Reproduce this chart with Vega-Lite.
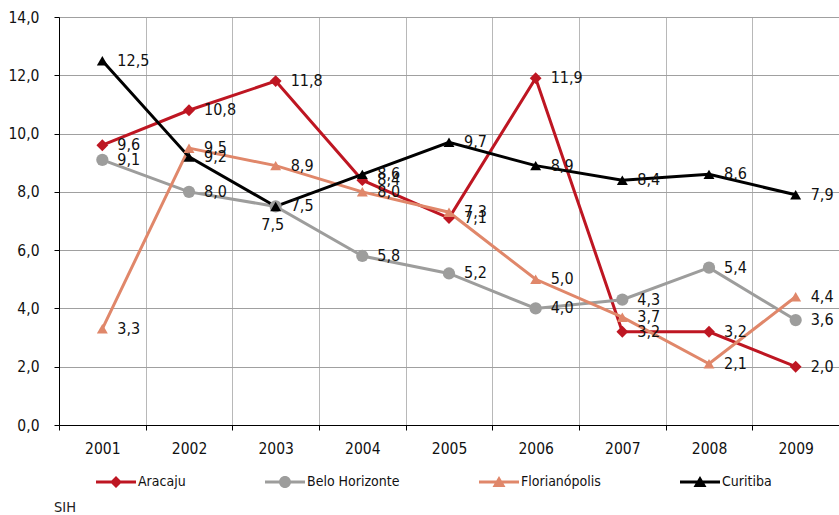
{
  "$schema": "https://vega.github.io/schema/vega-lite/v6.json",
  "autosize": "none",
  "padding": {"left": 59, "top": 17, "right": 0, "bottom": 90},
  "width": 780,
  "height": 408,
  "background": "white",
  "title": {"text": "SIH", "orient": "bottom", "anchor": "start", "frame": "group", "offset": 12, "dx": -5, "fontSize": 14.5, "font": "DejaVu Sans Condensed", "fontWeight": "normal", "color": "#222"},
  "data": {"values": [
    {"year": "2001", "city": "Aracaju", "v": 9.6},
    {"year": "2002", "city": "Aracaju", "v": 10.8},
    {"year": "2003", "city": "Aracaju", "v": 11.8},
    {"year": "2004", "city": "Aracaju", "v": 8.4},
    {"year": "2005", "city": "Aracaju", "v": 7.1},
    {"year": "2006", "city": "Aracaju", "v": 11.9},
    {"year": "2007", "city": "Aracaju", "v": 3.2},
    {"year": "2008", "city": "Aracaju", "v": 3.2},
    {"year": "2009", "city": "Aracaju", "v": 2.0},
    {"year": "2001", "city": "Belo Horizonte", "v": 9.1},
    {"year": "2002", "city": "Belo Horizonte", "v": 8.0},
    {"year": "2003", "city": "Belo Horizonte", "v": 7.5},
    {"year": "2004", "city": "Belo Horizonte", "v": 5.8},
    {"year": "2005", "city": "Belo Horizonte", "v": 5.2},
    {"year": "2006", "city": "Belo Horizonte", "v": 4.0},
    {"year": "2007", "city": "Belo Horizonte", "v": 4.3},
    {"year": "2008", "city": "Belo Horizonte", "v": 5.4},
    {"year": "2009", "city": "Belo Horizonte", "v": 3.6},
    {"year": "2001", "city": "Florianópolis", "v": 3.3},
    {"year": "2002", "city": "Florianópolis", "v": 9.5},
    {"year": "2003", "city": "Florianópolis", "v": 8.9},
    {"year": "2004", "city": "Florianópolis", "v": 8.0},
    {"year": "2005", "city": "Florianópolis", "v": 7.3},
    {"year": "2006", "city": "Florianópolis", "v": 5.0},
    {"year": "2007", "city": "Florianópolis", "v": 3.7},
    {"year": "2008", "city": "Florianópolis", "v": 2.1},
    {"year": "2009", "city": "Florianópolis", "v": 4.4},
    {"year": "2001", "city": "Curitiba", "v": 12.5},
    {"year": "2002", "city": "Curitiba", "v": 9.2},
    {"year": "2003", "city": "Curitiba", "v": 7.5},
    {"year": "2004", "city": "Curitiba", "v": 8.6},
    {"year": "2005", "city": "Curitiba", "v": 9.7},
    {"year": "2006", "city": "Curitiba", "v": 8.9},
    {"year": "2007", "city": "Curitiba", "v": 8.4},
    {"year": "2008", "city": "Curitiba", "v": 8.6},
    {"year": "2009", "city": "Curitiba", "v": 7.9}
  ]},
  "encoding": {
    "x": {"field": "year", "type": "nominal", "bandPosition": 0.5,
      "scale": {"type": "band", "paddingInner": 0, "paddingOuter": 0},
      "axis": {"title": null, "labelAngle": 0, "tickBand": "extent", "grid": true, "gridColor": "#b8b8b8", "gridWidth": 1, "domainColor": "#000", "tickColor": "#000", "tickSize": 5, "labelPadding": 11, "labelFontSize": 15.5, "labelFont": "DejaVu Sans Condensed", "labelColor": "#111"}},
    "y": {"field": "v", "type": "quantitative",
      "scale": {"domain": [0, 14], "nice": false},
      "axis": {"title": null, "values": [0, 2, 4, 6, 8, 10, 12, 14], "labelExpr": "replace(format(datum.value, '.1f'), '.', ',')", "grid": true, "gridColor": "#a0a0a0", "gridWidth": 1, "domain": true, "domainColor": "#000", "tickColor": "#000", "tickSize": 5, "labelPadding": 15, "labelFontSize": 15.5, "labelFont": "DejaVu Sans Condensed", "labelColor": "#111"}}
  },
  "layer": [
    {
      "transform": [{"filter": "datum.v < 0"}],
      "mark": {"type": "point", "filled": true, "opacity": 1},
      "encoding": {
        "color": {"field": "city", "type": "nominal",
          "scale": {"domain": ["Aracaju", "Belo Horizonte", "Florianópolis", "Curitiba"], "range": ["#BE1622", "#9D9D9C", "#E0876A", "#000000"]},
          "legend": {"title": null, "orient": "none", "legendX": 47, "legendY": 455, "direction": "horizontal", "columns": 4, "columnPadding": 79, "symbolSize": 400, "symbolOpacity": 1, "labelOffset": 12, "labelFontSize": 14, "labelFont": "DejaVu Sans Condensed", "labelColor": "#111", "symbolStrokeWidth": 0, "padding": 0}},
        "shape": {"field": "city", "type": "nominal",
          "scale": {"domain": ["Aracaju", "Belo Horizonte", "Florianópolis", "Curitiba"], "range": [
            "M-2,-0.15H2V0.15H-2Z M0,-0.6L0.6,0L0,0.6L-0.6,0Z",
            "M-2,-0.15H2V0.15H-2Z M-0.6,0A0.6,0.6 0 1,1 0.6,0A0.6,0.6 0 1,1 -0.6,0Z",
            "M-2,-0.15H2V0.15H-2Z M0,-0.6L0.65,0.5L-0.65,0.5Z",
            "M-2,-0.15H2V0.15H-2Z M0,-0.6L0.65,0.5L-0.65,0.5Z"]},
          "legend": {"title": null, "orient": "none", "legendX": 47, "legendY": 455, "direction": "horizontal", "columns": 4, "columnPadding": 79, "symbolSize": 400, "symbolOpacity": 1, "labelOffset": 12, "labelFontSize": 14, "labelFont": "DejaVu Sans Condensed", "labelColor": "#111", "symbolStrokeWidth": 0, "padding": 0}}
      }
    },
    {
      "mark": {"type": "line", "strokeWidth": 3},
      "encoding": {"color": {"field": "city", "type": "nominal", "legend": null}}
    },
    {
      "transform": [{"filter": "datum.city == 'Aracaju'"}],
      "mark": {"type": "point", "filled": true, "shape": "diamond", "size": 140, "opacity": 1},
      "encoding": {"color": {"field": "city", "type": "nominal", "legend": null}}
    },
    {
      "transform": [{"filter": "datum.city == 'Belo Horizonte'"}],
      "mark": {"type": "point", "filled": true, "shape": "circle", "size": 150, "opacity": 1},
      "encoding": {"color": {"field": "city", "type": "nominal", "legend": null}}
    },
    {
      "transform": [{"filter": "datum.city == 'Florianópolis' || datum.city == 'Curitiba'"}],
      "mark": {"type": "point", "filled": true, "shape": "triangle-up", "size": 120, "opacity": 1},
      "encoding": {"color": {"field": "city", "type": "nominal", "legend": null}}
    },
    {
      "transform": [
        {"filter": "!(datum.city == 'Belo Horizonte' && datum.year == '2003')"},
        {"calculate": "replace(format(datum.v, '.1f'), '.', ',')", "as": "lbl"}
      ],
      "mark": {"type": "text", "align": "left", "baseline": "middle", "dx": 15, "fontSize": 16, "font": "DejaVu Sans Condensed", "color": "#111"},
      "encoding": {"text": {"field": "lbl"}}
    },
    {
      "transform": [
        {"filter": "datum.city == 'Belo Horizonte' && datum.year == '2003'"},
        {"calculate": "replace(format(datum.v, '.1f'), '.', ',')", "as": "lbl"}
      ],
      "mark": {"type": "text", "align": "center", "baseline": "middle", "dx": -3, "dy": 19, "fontSize": 16, "font": "DejaVu Sans Condensed", "color": "#111"},
      "encoding": {"text": {"field": "lbl"}}
    }
  ],
  "config": {"view": {"stroke": null}}
}
